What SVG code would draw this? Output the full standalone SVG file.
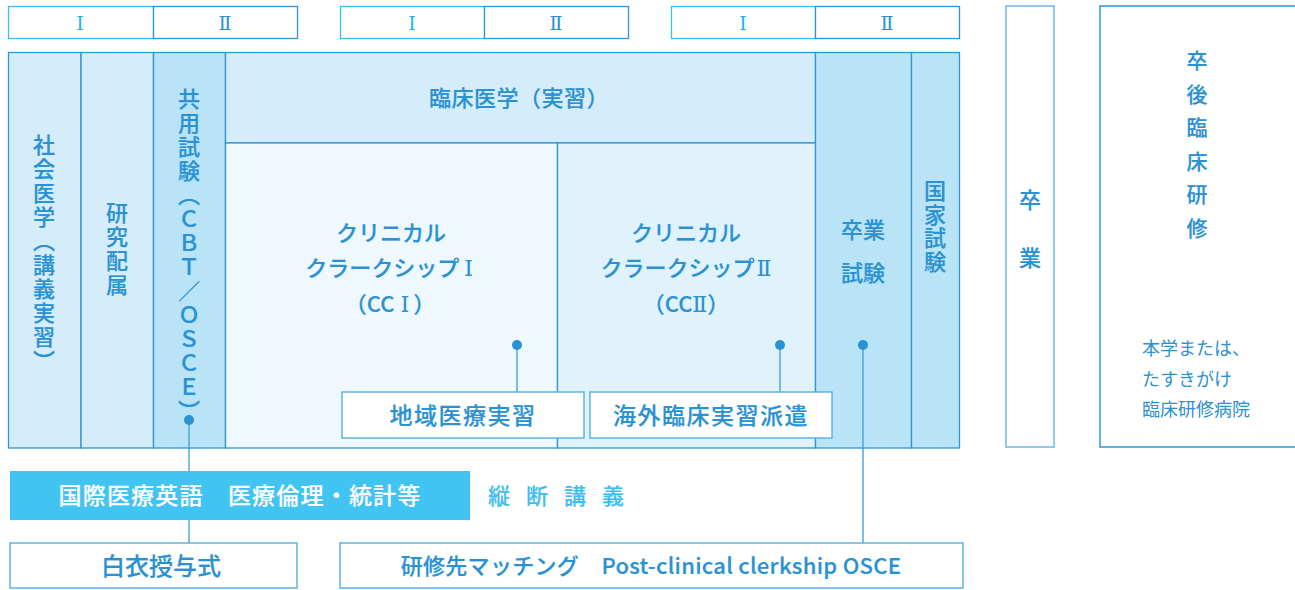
<svg xmlns="http://www.w3.org/2000/svg" width="1295" height="590" viewBox="0 0 1295 590">
<defs>
<style>
.t{font-family:"Noto Sans CJK JP","Noto Sans",sans-serif;fill:#2a91d2;font-weight:500;stroke:#2a91d2;stroke-width:0.2px}
.c{text-anchor:middle}
.v{writing-mode:vertical-rl;text-anchor:middle}
.rn{font-family:"DejaVu Serif","Liberation Serif","Noto Sans CJK JP",serif;font-size:19px;text-anchor:middle}
.sr{font-family:"DejaVu Serif","Liberation Serif","Noto Sans CJK JP",serif;stroke-width:0.1px}
.hl{fill:#fff;stroke:#33c1f0;stroke-width:1.3}
.hr{fill:#fff;stroke:#2a96d6;stroke-width:1.3}
.cell{stroke:#2a97d6;stroke-width:1.3}
.lt{fill:#d5edfa}
.dk{fill:#b9e4f8}
.box{fill:#fff;stroke:#5db4e4;stroke-width:1.5}
.ln{stroke:#3a9bd8;stroke-width:1.3;fill:none}
.dot{fill:#2a91d2}
</style>
</defs>

<g id="header-1">
<rect class="hl" x="8.5" y="6.5" width="145" height="32"/>
<rect class="hr" x="153.5" y="6.5" width="144" height="32"/>
<text class="rn" x="80" y="30" fill="#17b3ec">Ⅰ</text>
<text class="rn" x="225" y="30" fill="#2a90d4">Ⅱ</text>
</g>
<g id="header-2">
<rect class="hl" x="340.5" y="6.5" width="144" height="32"/>
<rect class="hr" x="484.5" y="6.5" width="144" height="32"/>
<text class="rn" x="412" y="30" fill="#17b3ec">Ⅰ</text>
<text class="rn" x="556" y="30" fill="#2a90d4">Ⅱ</text>
</g>
<g id="header-3">
<rect class="hl" x="671.5" y="6.5" width="144" height="32"/>
<rect class="hr" x="815.5" y="6.5" width="144" height="32"/>
<text class="rn" x="743" y="30" fill="#17b3ec">Ⅰ</text>
<text class="rn" x="887" y="30" fill="#2a90d4">Ⅱ</text>
</g>

<g id="social-medicine">
<rect class="cell lt" x="8.5" y="52.5" width="72.5" height="395.5"/>
<text class="t v" x="44" y="254" font-size="22" letter-spacing="2">社会医学（講義実習）</text>
</g>
<g id="research">
<rect class="cell lt" x="81" y="52.5" width="72.5" height="395.5"/>
<text class="t v" x="117" y="250" font-size="22" letter-spacing="2">研究配属</text>
</g>
<g id="common-exam">
<rect class="cell dk" x="153.5" y="52.5" width="72" height="395.5"/>
<text class="t v" x="189" y="256" font-size="22" letter-spacing="2">共用試験（ＣＢＴ／ＯＳＣＥ）</text>
</g>
<g id="clinical-medicine">
<rect class="cell lt" x="225.5" y="52.5" width="590" height="90.5"/>
<text class="t c" x="519" y="106" font-size="22" letter-spacing="0.5">臨床医学（実習）</text>
</g>
<g id="cc1">
<rect class="cell" fill="#eff8fe" x="225.5" y="143" width="332" height="305"/>
<text class="t c" x="391" y="241" font-size="22">クリニカル</text>
<text class="t c" x="389" y="276" font-size="22">クラークシップ<tspan class="sr" dx="5" font-size="22">Ⅰ</tspan></text>
<text class="t c" x="390" y="312" font-size="22">（CC<tspan class="sr" dx="6">Ⅰ</tspan><tspan dx="4">）</tspan></text>
</g>
<g id="cc2">
<rect class="cell" fill="#e0f3fc" x="557.5" y="143" width="258" height="305"/>
<text class="t c" x="686" y="241" font-size="22">クリニカル</text>
<text class="t c" x="686" y="276" font-size="22">クラークシップ<tspan class="sr" dx="2" font-size="22">Ⅱ</tspan></text>
<text class="t c" x="686" y="312" font-size="22">（CC<tspan class="sr">Ⅱ</tspan>）</text>
</g>
<g id="graduation-exam">
<rect class="cell dk" x="815.5" y="52.5" width="96" height="395.5"/>
<text class="t c" x="863" y="238" font-size="22">卒業</text>
<text class="t c" x="863" y="281" font-size="22">試験</text>
</g>
<g id="national-exam">
<rect class="cell dk" x="911.5" y="52.5" width="48" height="395.5"/>
<text class="t v" x="935" y="227" font-size="22" letter-spacing="1.5">国家試験</text>
</g>

<g id="connectors">
<line class="ln" x1="189" y1="420" x2="189" y2="543"/>
<line class="ln" x1="517" y1="345" x2="517" y2="392"/>
<line class="ln" x1="780" y1="345" x2="780" y2="392"/>
<line class="ln" x1="863" y1="345" x2="863" y2="543"/>
<circle class="dot" cx="189" cy="420" r="5"/>
<circle class="dot" cx="517" cy="345" r="5"/>
<circle class="dot" cx="780" cy="345" r="5"/>
<circle class="dot" cx="863" cy="345" r="5"/>
</g>

<g id="regional">
<rect class="box" x="342" y="392" width="242" height="46"/>
<text class="t c" x="463" y="424" font-size="23" letter-spacing="1.5">地域医療実習</text>
</g>
<g id="overseas">
<rect class="box" x="590" y="392" width="242" height="46"/>
<text class="t c" x="711" y="424" font-size="23" letter-spacing="1.5">海外臨床実習派遣</text>
</g>

<g id="longitudinal">
<rect x="10" y="471" width="460" height="49" fill="#42c4f3"/>
<text class="t c" x="240" y="504" font-size="23" letter-spacing="1.2" style="fill:#fff;stroke:#fff">国際医療英語　医療倫理・統計等</text>
<text class="t" x="488" y="504" font-size="22" letter-spacing="16" style="fill:#44bdee;stroke:#44bdee">縦断講義</text>
</g>
<g id="white-coat">
<rect class="box" x="10" y="543" width="287" height="45"/>
<text class="t c" x="161" y="575" font-size="24">白衣授与式</text>
</g>
<g id="matching">
<rect class="box" x="340" y="543" width="623" height="45"/>
<text class="t c" x="651" y="574" font-size="22" letter-spacing="0.3">研修先マッチング　Post-clinical clerkship OSCE</text>
</g>

<g id="graduation">
<rect fill="#fff" stroke="#6bbbe8" stroke-width="1.5" x="1006" y="6" width="48" height="441"/>
<text class="t c" x="1030" y="208" font-size="22">卒</text>
<text class="t c" x="1030" y="266" font-size="22">業</text>
</g>
<g id="postgrad">
<rect fill="#fff" stroke="#2a97d6" stroke-width="1.5" x="1100" y="6" width="210" height="441"/>
<text class="t c" font-size="21" x="1197"><tspan x="1197" y="68">卒</tspan><tspan x="1197" y="101.5">後</tspan><tspan x="1197" y="135">臨</tspan><tspan x="1197" y="168.5">床</tspan><tspan x="1197" y="202">研</tspan><tspan x="1197" y="235.5">修</tspan></text>
<text class="t" font-size="18" style="font-weight:400;stroke-width:0"><tspan x="1142" y="355">本学または、</tspan><tspan x="1142" y="386">たすきがけ</tspan><tspan x="1142" y="416">臨床研修病院</tspan></text>
</g>
</svg>
